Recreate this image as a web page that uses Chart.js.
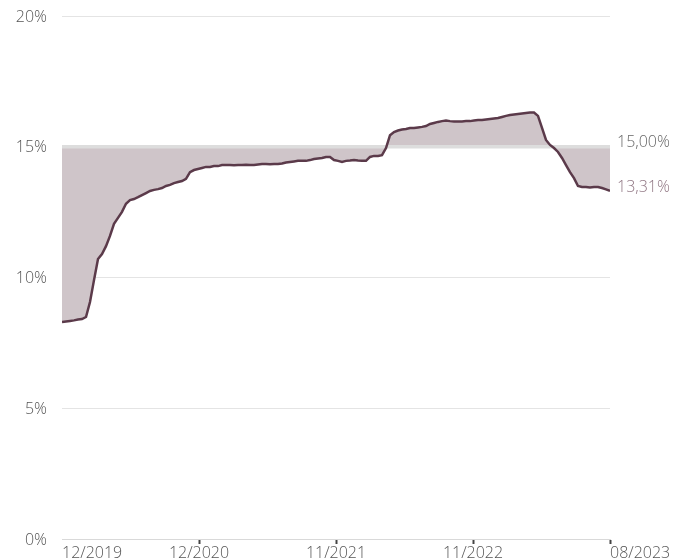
<!DOCTYPE html>
<html>
<head>
<meta charset="utf-8">
<script src="https://cdn.jsdelivr.net/npm/chart.js@4.4.1/dist/chart.umd.min.js"></script>
<style>
  html, body { margin: 0; padding: 0; background: #fff; }
  #wrap { width: 684px; height: 560px; position: relative; }
</style>
</head>
<body>
<div id="wrap"><canvas id="grafico"></canvas></div>
<script>
// ---- datos ----
// serie (en %), muestras equiespaciadas desde 12/2019 hasta 08/2023
var serieValores = [
  8.30, 8.32, 8.34, 8.36, 8.39, 8.41, 8.49, 9.06, 9.90, 10.71,
  10.90, 11.20, 11.59, 12.05, 12.28, 12.51, 12.82, 12.96, 13.00, 13.07,
  13.15, 13.23, 13.31, 13.35, 13.38, 13.42, 13.50, 13.54, 13.61, 13.65,
  13.69, 13.77, 14.03, 14.11, 14.15, 14.19, 14.23, 14.23, 14.26, 14.26,
  14.30, 14.30, 14.30, 14.29, 14.30, 14.30, 14.31, 14.30, 14.30, 14.32,
  14.34, 14.34, 14.33, 14.34, 14.34, 14.36, 14.40, 14.42, 14.44, 14.46,
  14.46, 14.46, 14.49, 14.53, 14.55, 14.57, 14.61, 14.61, 14.49, 14.46,
  14.42, 14.46, 14.47, 14.49, 14.47, 14.46, 14.46, 14.61, 14.65, 14.65,
  14.68, 14.95, 15.44, 15.56, 15.62, 15.66, 15.68, 15.72, 15.72, 15.74,
  15.76, 15.79, 15.87, 15.91, 15.95, 15.98, 16.00, 15.98, 15.97, 15.97,
  15.97, 15.98, 15.98, 16.00, 16.02, 16.02, 16.04, 16.06, 16.08, 16.10,
  16.14, 16.18, 16.21, 16.23, 16.25, 16.27, 16.29, 16.31, 16.31, 16.18,
  15.72, 15.26, 15.07, 14.95, 14.80, 14.57, 14.30, 14.03, 13.80, 13.50,
  13.46, 13.46, 13.44, 13.46, 13.46, 13.42, 13.37, 13.31
];
var nivelReferencia = 15;
var etiquetasX = ['12/2019', '12/2020', '11/2021', '11/2022', '08/2023'];
var posicionesX = [0, 34.25, 68.5, 102.75, 137];
var ticksY = [0, 5, 10, 15, 20];
var etiquetaRef = '15,00%';
var etiquetaUltimo = '13,31%';

var puntosSerie = serieValores.map(function (v, i) { return { x: i, y: v }; });
var puntosRef = [{ x: 0, y: nivelReferencia }, { x: serieValores.length - 1, y: nivelReferencia }];

var FUENTE = '"Open Sans", Lato, sans-serif';
var colorLinea = '#5b3a4a';
var colorRelleno = 'rgba(207, 197, 201, 1)';
var colorTexto = '#555555';

// etiquetas (ejes y textos de la derecha) dibujadas a mano con las escalas
var pluginTextos = {
  id: 'textos',
  afterDraw: function (chart) {
    var ctx = chart.ctx;
    var sx = chart.scales.x, sy = chart.scales.y;
    ctx.save();
    ctx.font = '300 16px ' + FUENTE;
    ctx.fillStyle = colorTexto;

    // eje Y
    ctx.textAlign = 'right';
    ctx.textBaseline = 'middle';
    ticksY.forEach(function (v) {
      ctx.fillText(v + '%', sx.left - 15, sy.getPixelForValue(v) + 1);
    });

    // eje X
    ctx.textBaseline = 'top';
    etiquetasX.forEach(function (txt, i) {
      var px = sx.getPixelForValue(posicionesX[i]);
      var ultimo = i === etiquetasX.length - 1;
      ctx.textAlign = (i === 0 || ultimo) ? 'left' : 'center';
      ctx.fillText(txt, px, 545);
    });

    // textos a la derecha
    ctx.textAlign = 'left';
    ctx.textBaseline = 'middle';
    ctx.fillStyle = '#666666';
    ctx.fillText(etiquetaRef, sx.right + 7, sy.getPixelForValue(nivelReferencia) - 4);
    ctx.fillStyle = '#8f7582';
    ctx.fillText(etiquetaUltimo, sx.right + 7, sy.getPixelForValue(serieValores[serieValores.length - 1]) - 4);
    ctx.restore();
  }
};

var ctx = document.getElementById('grafico').getContext('2d');
var miChart = new Chart(ctx, {
  type: 'line',
  data: {
    datasets: [
      {
        label: 'Serie',
        data: puntosSerie,
        borderColor: colorLinea,
        borderWidth: 2.5,
        pointRadius: 0,
        tension: 0,
        fill: { value: nivelReferencia },
        backgroundColor: colorRelleno
      },
      {
        label: 'Referencia',
        data: puntosRef,
        borderColor: '#dddddd',
        borderWidth: 3.5,
        pointRadius: 0,
        fill: false
      }
    ]
  },
  options: {
    responsive: true,
    maintainAspectRatio: false,
    animation: false,
    layout: { padding: { top: 16, right: 74, left: 62, bottom: 0 } },
    plugins: {
      legend: { display: false },
      tooltip: { enabled: false },
      filler: { drawTime: 'beforeDatasetsDraw' }
    },
    scales: {
      x: {
        type: 'linear',
        min: 0,
        max: serieValores.length - 1,
        afterBuildTicks: function (s) { s.ticks = posicionesX.map(function (v) { return { value: v }; }); },
        afterFit: function (s) { s.height = 21; },
        ticks: { display: false },
        border: { display: true, color: '#d9d9d9', width: 1 },
        grid: {
          drawOnChartArea: false,
          drawTicks: true,
          tickLength: 5,
          tickWidth: 2,
          color: function (c) { return c.index === 0 ? 'rgba(0,0,0,0)' : '#444444'; }
        }
      },
      y: {
        min: 0,
        max: 20,
        afterBuildTicks: function (s) { s.ticks = ticksY.map(function (v) { return { value: v }; }); },
        afterFit: function (s) { s.width = 0; },
        border: { display: false },
        grid: { color: '#e4e4e4', lineWidth: 1, drawTicks: false },
        ticks: { display: false }
      }
    }
  },
  plugins: [pluginTextos]
});
</script>
</body>
</html>
